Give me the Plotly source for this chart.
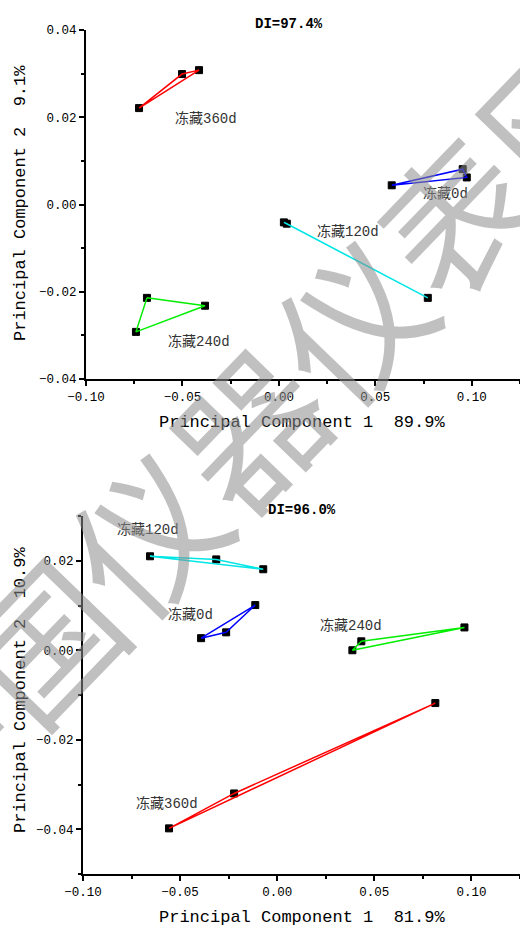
import plotly.graph_objects as go

# ---------------- data (top panel) ----------------
top_x_0d = [0.0585, 0.0953, 0.0974]
top_y_0d = [0.0044, 0.0081, 0.0062]
top_x_120d = [0.0026, 0.0041, 0.0772]
top_y_120d = [-0.0041, -0.0044, -0.0214]
top_x_240d = [-0.0684, -0.0383, -0.0741]
top_y_240d = [-0.0214, -0.0232, -0.0292]
top_x_360d = [-0.0725, -0.0502, -0.0414]
top_y_360d = [0.0221, 0.0299, 0.0308]
top_di = "DI=97.4%"
top_xtitle = "Principal Component 1  89.9%"
top_ytitle = "Principal Component 2  9.1%"

# ---------------- data (bottom panel) ----------------
bot_x_0d = [-0.0392, -0.0263, -0.0113]
bot_y_0d = [0.0027, 0.0040, 0.0101]
bot_x_120d = [-0.0655, -0.0314, -0.0072]
bot_y_120d = [0.0210, 0.0203, 0.0181]
bot_x_240d = [0.0433, 0.0387, 0.0964]
bot_y_240d = [0.0020, 0.0000, 0.0051]
bot_x_360d = [-0.0557, -0.0222, 0.0814]
bot_y_360d = [-0.0398, -0.0320, -0.0118]
bot_di = "DI=96.0%"
bot_xtitle = "Principal Component 1  81.9%"
bot_ytitle = "Principal Component 2  10.9%"

group_colors = {"冻藏0d": "#0000ff", "冻藏120d": "#00e6e6",
                "冻藏240d": "#00ee00", "冻藏360d": "#ff0000"}

# label positions (data coords)
top_label_pos = {"冻藏0d": (0.0865, 0.0025), "冻藏120d": (0.0357, -0.0062),
                 "冻藏240d": (-0.0414, -0.0313), "冻藏360d": (-0.0378, 0.0198)}
bot_label_pos = {"冻藏0d": (-0.0448, 0.0080), "冻藏120d": (-0.0665, 0.0270),
                 "冻藏240d": (0.0381, 0.0056), "冻藏360d": (-0.0567, -0.0342)}

top_data = {"冻藏0d": (top_x_0d, top_y_0d), "冻藏120d": (top_x_120d, top_y_120d),
            "冻藏240d": (top_x_240d, top_y_240d), "冻藏360d": (top_x_360d, top_y_360d)}
bot_data = {"冻藏0d": (bot_x_0d, bot_y_0d), "冻藏120d": (bot_x_120d, bot_y_120d),
            "冻藏240d": (bot_x_240d, bot_y_240d), "冻藏360d": (bot_x_360d, bot_y_360d)}

W, H = 520, 927
MONO = "Liberation Mono, Noto Sans CJK SC, monospace"

fig = go.Figure()


def add_panel(data, xa, ya):
    for g, (xs, ys) in data.items():
        fig.add_trace(go.Scatter(x=xs, y=ys, mode="markers", xaxis=xa, yaxis=ya,
                                 marker=dict(symbol="square", size=7, color="black",
                                             line=dict(color="black", width=1)),
                                 showlegend=False, hoverinfo="skip"))
        fig.add_trace(go.Scatter(x=list(xs) + [xs[0]], y=list(ys) + [ys[0]], mode="lines",
                                 xaxis=xa, yaxis=ya,
                                 line=dict(color=group_colors[g], width=1.5),
                                 showlegend=False, hoverinfo="skip"))


add_panel(top_data, "x", "y")
add_panel(bot_data, "x2", "y2")


def px_x(p):
    return p / W


def px_y(p):
    return 1 - p / H


axis_common = dict(showgrid=False, zeroline=False, showline=True, linecolor="black",
                   linewidth=2, ticks="outside", ticklen=5, tickwidth=1.5,
                   tickcolor="black", tickformat=".2f", automargin=False,
                   tickfont=dict(family=MONO, size=12.5, color="black"))

fig.update_layout(
    width=W, height=H, margin=dict(l=0, r=0, t=0, b=0, autoexpand=False),
    paper_bgcolor="white", plot_bgcolor="white",
    xaxis=dict(domain=[px_x(86), 1.0], range=[-0.10, 0.125], dtick=0.05, tick0=0,
               minor=dict(dtick=0.025, ticks="outside", ticklen=3, tickcolor="black"),
               anchor="y", **axis_common),
    yaxis=dict(domain=[px_y(379), px_y(30)], range=[-0.04, 0.04], dtick=0.02, tick0=0,
               minor=dict(dtick=0.01, ticks="outside", ticklen=3, tickcolor="black"),
               anchor="x", **axis_common),
    xaxis2=dict(domain=[px_x(83), 1.0], range=[-0.10, 0.125], dtick=0.05, tick0=0,
                minor=dict(dtick=0.025, ticks="outside", ticklen=3, tickcolor="black"),
                anchor="y2", **axis_common),
    yaxis2=dict(domain=[px_y(874), px_y(516)], range=[-0.05, 0.03], dtick=0.02, tick0=0,
                minor=dict(dtick=0.01, ticks="outside", ticklen=3, tickcolor="black"),
                anchor="x2", **axis_common),
)

C = dict(xanchor="center", yanchor="middle", showarrow=False)
ann = []
for g, (lx, ly) in top_label_pos.items():
    ann.append(dict(x=lx, y=ly, xref="x", yref="y", text=g,
                    font=dict(family=MONO, size=14, color="#333333"), **C))
for g, (lx, ly) in bot_label_pos.items():
    ann.append(dict(x=lx, y=ly, xref="x2", yref="y2", text=g,
                    font=dict(family=MONO, size=14, color="#333333"), **C))

ann += [
    dict(x=px_x(289), y=px_y(24), xref="paper", yref="paper", text="<b>" + top_di + "</b>",
         bgcolor="white", font=dict(family=MONO, size=14, color="black"), **C),
    dict(x=px_x(302), y=px_y(510), xref="paper", yref="paper", text="<b>" + bot_di + "</b>",
         bgcolor="white", font=dict(family=MONO, size=14, color="black"), **C),
    dict(x=px_x(302), y=px_y(422), xref="paper", yref="paper", text=top_xtitle,
         font=dict(family=MONO, size=17, color="black"), **C),
    dict(x=px_x(302), y=px_y(917), xref="paper", yref="paper", text=bot_xtitle,
         font=dict(family=MONO, size=17, color="black"), **C),
    dict(x=px_x(20), y=px_y(203), xref="paper", yref="paper", text=top_ytitle,
         textangle=-90, font=dict(family=MONO, size=17, color="black"), **C),
    dict(x=px_x(20), y=px_y(690), xref="paper", yref="paper", text=bot_ytitle,
         textangle=-90, font=dict(family=MONO, size=17, color="black"), **C),
    # watermark
    dict(x=px_x(245), y=px_y(425), xref="paper", yref="paper", text="中国仪器仪表网",
         textangle=-46,
         font=dict(family="Noto Sans CJK SC", size=148, color="rgba(140,140,140,0.55)"), **C),
]
fig.update_layout(annotations=ann)

fig.write_html("out.html", config={"displayModeBar": False},
               post_script="document.body.style.margin='0';document.body.style.padding='0';")
